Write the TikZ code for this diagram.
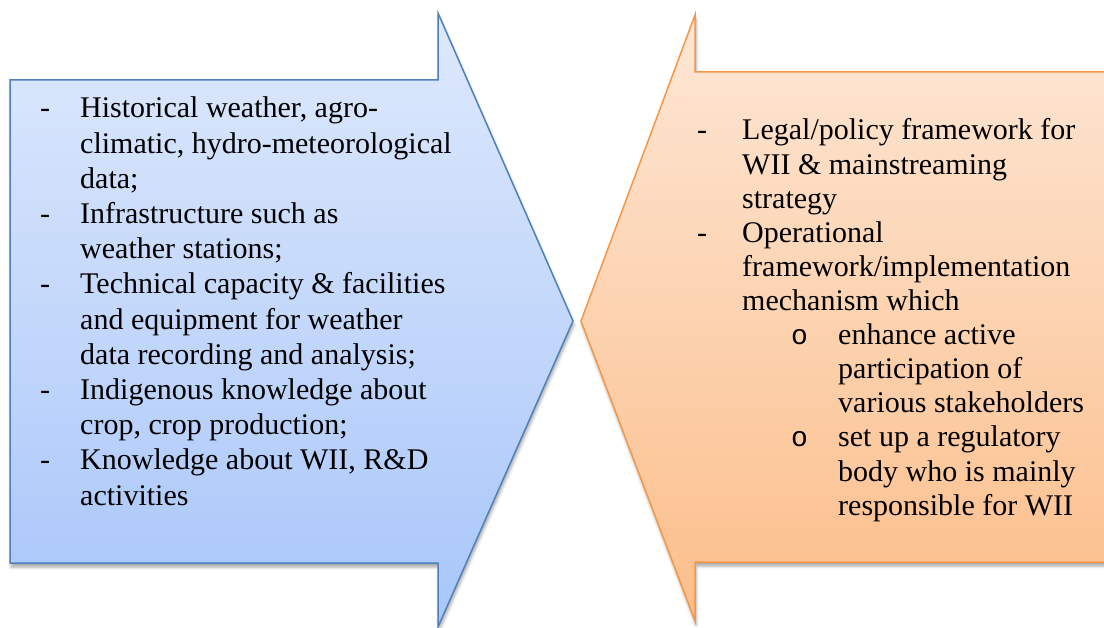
\documentclass[tikz,border=0pt]{standalone}
\usepackage{fontspec}
\setmainfont{Liberation Serif}
\newfontfamily\monof{Liberation Mono}
\usetikzlibrary{shadows.blur}
\definecolor{bluebd}{RGB}{79,129,189}
\definecolor{bluetop}{RGB}{222,233,252}
\definecolor{bluebot}{RGB}{168,198,250}
\definecolor{orbd}{RGB}{247,150,70}
\definecolor{ortop}{RGB}{253,231,214}
\definecolor{orbot}{RGB}{252,190,138}
\tikzset{
  txt/.style={anchor=base west, inner sep=0pt, font=\fontsize{30}{35}\selectfont},
  bul/.style={anchor=base west, inner sep=0pt, font=\fontsize{30}{35}\selectfont},
  subbul/.style={anchor=base west, inner sep=0pt, font=\monof\fontsize{28}{35}\selectfont},
  arrowshape/.style={line width=1.5pt, line join=miter, blur shadow={shadow xshift=1pt, shadow yshift=-4pt, shadow blur radius=3pt, shadow opacity=35}}
}
\begin{document}
\begin{tikzpicture}[x=1pt,y=-1pt]
\useasboundingbox (0,0) rectangle (1104,628);
\clip (0,0) rectangle (1104,628);
% left arrow
\path[arrowshape, draw=bluebd, top color=bluetop, bottom color=bluebot]
  (10,80) -- (438,80) -- (438,13) -- (573,321) -- (438,627) -- (438,563) -- (10,563) -- cycle;
% right arrow
\path[arrowshape, draw=orbd, top color=ortop, bottom color=orbot]
  (1120,72) -- (695,72) -- (695,15) -- (581,321) -- (695,621) -- (695,562) -- (1120,562);
% left text
\node[bul] (ld1) at (40,118) {-};
\node[txt] (l1) at (80,118) {Historical weather, agro-};
\node[txt] (l2) at (80,153.2) {climatic, hydro-meteorological};
\node[txt] (l3) at (80,188.4) {data;};
\node[bul] (ld2) at (40,223.6) {-};
\node[txt] (l4) at (80,223.6) {Infrastructure such as};
\node[txt] (l5) at (80,258.8) {weather stations;};
\node[bul] (ld3) at (40,294) {-};
\node[txt] (l6) at (80,294) {Technical capacity \& facilities};
\node[txt] (l7) at (80,329.2) {and equipment for weather};
\node[txt] (l8) at (80,364.4) {data recording and analysis;};
\node[bul] (ld4) at (40,399.6) {-};
\node[txt] (l9) at (80,399.6) {Indigenous knowledge about};
\node[txt] (l10) at (80,434.8) {crop, crop production;};
\node[bul] (ld5) at (40,470) {-};
\node[txt] (l11) at (80,470) {Knowledge about WII, R\&D};
\node[txt] (l12) at (80,505.2) {activities};
% right text
\node[bul] (rd1) at (697,140) {-};
\node[txt] (r1) at (742,140) {Legal/policy framework for};
\node[txt] (r2) at (742,174.1) {WII \& mainstreaming};
\node[txt] (r3) at (742,208.2) {strategy};
\node[bul] (rd2) at (697,242.3) {-};
\node[txt] (r4) at (742,242.3) {Operational};
\node[txt] (r5) at (742,276.4) {framework/implementation};
\node[txt] (r6) at (742,310.5) {mechanism which};
\node[subbul] (ro1) at (791,344.6) {o};
\node[txt] (r7) at (838,344.6) {enhance active};
\node[txt] (r8) at (838,378.7) {participation of};
\node[txt] (r9) at (838,412.8) {various stakeholders};
\node[subbul] (ro2) at (791,446.9) {o};
\node[txt] (r10) at (838,446.9) {set up a regulatory};
\node[txt] (r11) at (838,481) {body who is mainly};
\node[txt] (r12) at (838,515.1) {responsible for WII};
\end{tikzpicture}
\end{document}
